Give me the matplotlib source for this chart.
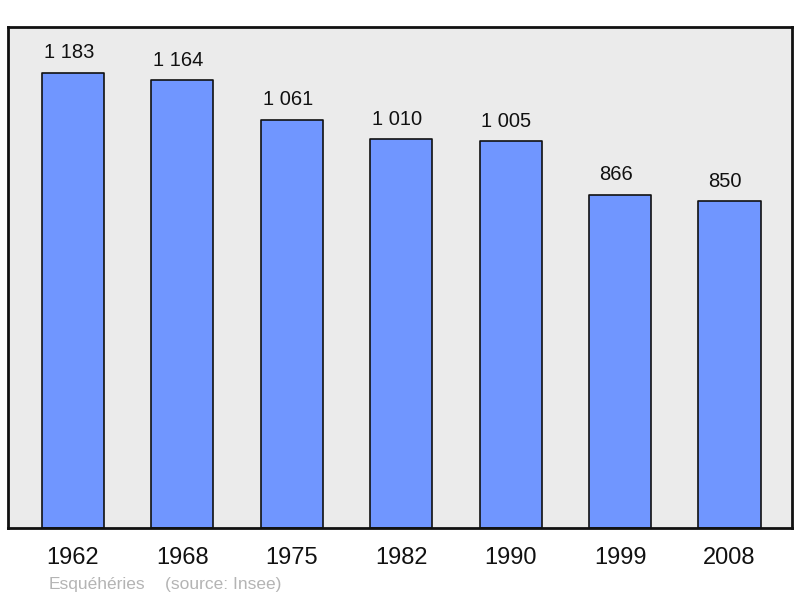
import matplotlib
matplotlib.use("Agg")
import matplotlib.pyplot as plt

# population data
years = ["1962", "1968", "1975", "1982", "1990", "1999", "2008"]
population = [1183, 1164, 1061, 1010, 1005, 866, 850]
labels = ["1 183", "1 164", "1 061", "1 010", "1 005", "866", "850"]

plt.rcParams['font.family'] = ['Liberation Sans', 'DejaVu Sans']

fig = plt.figure(figsize=(8, 5.98), dpi=100)
ax = fig.add_axes([0.01, 0.117, 0.98, 0.8378])
ax.set_facecolor('#ebebeb')

x = list(range(len(years)))
bars = ax.bar(x, population, width=0.567, color='#7096ff', edgecolor='#111111',
              linewidth=1.2, zorder=2)
for b in bars:
    b.set_joinstyle('round')

for xi, v, lab in zip(x, population, labels):
    ax.annotate(lab, (xi, v), xytext=(-3, 7.5), textcoords='offset points',
                ha='center', va='bottom', fontsize=14.5, color='#111111')

ax.set_xlim(-0.594, 6.571)
ax.set_ylim(0, 1302)
ax.set_xticks(x)
ax.set_xticklabels(years, fontsize=17, color='#111111')
ax.tick_params(axis='x', length=0, pad=13.5)
ax.set_yticks([])
for s in ax.spines.values():
    s.set_linewidth(2)
    s.set_color('#111111')

fig.text(0.061, 0.010, "Esquéhéries", fontsize=12.5, color='#b4b4b4', va='bottom')
fig.text(0.206, 0.010, "(source: Insee)", fontsize=12.5, color='#b4b4b4', va='bottom')

fig.savefig('out.png', dpi=100)
